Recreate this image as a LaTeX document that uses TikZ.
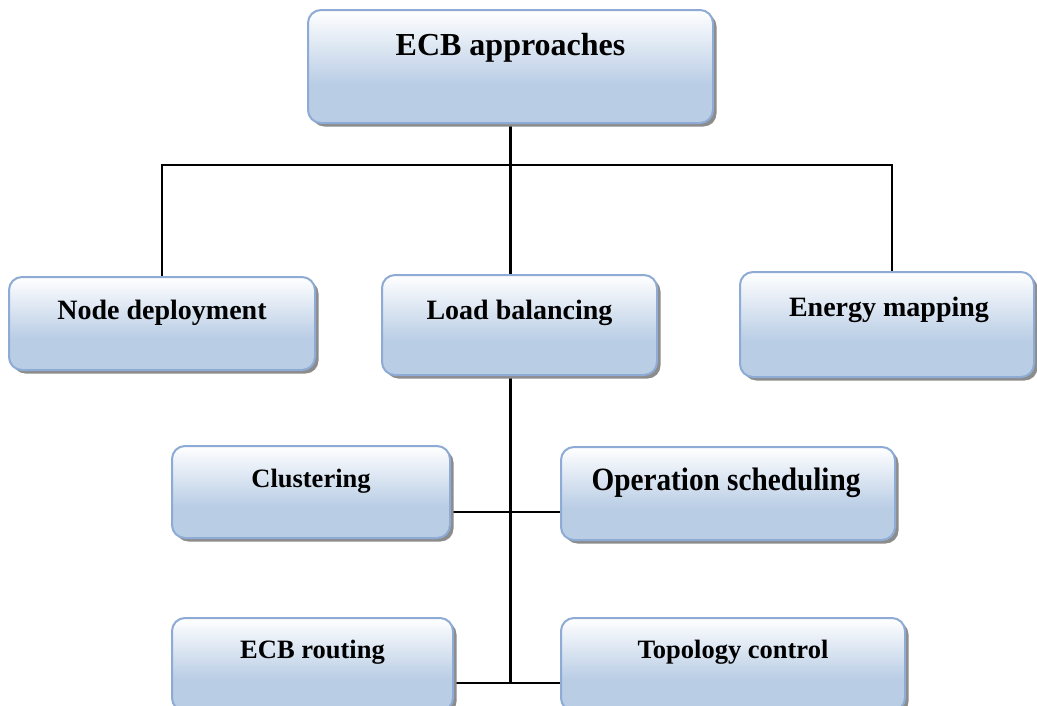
\documentclass[tikz,border=0pt]{standalone}
\usepackage{fontspec}
\setmainfont{Liberation Serif}
\usetikzlibrary{shadows,calc}
\definecolor{boxblue}{RGB}{185,205,229}
\definecolor{boxborder}{RGB}{141,171,212}
\definecolor{shadowgray}{RGB}{140,140,140}
\pgfdeclareverticalshading{boxshade}{100bp}{color(0bp)=(boxblue); color(42bp)=(boxblue); color(75bp)=(white); color(100bp)=(white)}
\pgfdeclarelayer{bg}
\pgfsetlayers{bg,main}
\begin{document}
\begin{tikzpicture}[x=1pt,y=-1pt,
  box/.style={draw=boxborder, line width=2pt, rounded corners=13pt, shading=boxshade,
    drop shadow={shadow xshift=3.5pt, shadow yshift=-3.5pt, fill=shadowgray, opacity=1}, inner sep=0pt},
  lbl/.style={anchor=base, inner sep=0pt},
  wire/.style={line width=2.4pt, black}]
\useasboundingbox (0,0) rectangle (1037,705);
\clip (0,0) rectangle (1037,705);
% boxes
\node[box, minimum width=405pt, minimum height=113pt] (top) at (510.5,66.5) {};
\node[box, minimum width=306pt, minimum height=93pt] (nd) at (162,323.5) {};
\node[box, minimum width=275pt, minimum height=100pt] (lb) at (519.5,325) {};
\node[box, minimum width=294pt, minimum height=105pt] (em) at (887,324.5) {};
\node[box, minimum width=278pt, minimum height=92pt] (cl) at (311,492) {};
\node[box, minimum width=334pt, minimum height=93pt] (os) at (728,493.5) {};
\node[box, minimum width=281pt, minimum height=93pt] (er) at (312.5,664.5) {};
\node[box, minimum width=344pt, minimum height=93pt] (tc) at (733,664.5) {};
% labels
\node[lbl, font=\bfseries\fontsize{32}{36}\selectfont] (topt) at (510.5,55) {ECB approaches};
\node[lbl, font=\bfseries\fontsize{28}{32}\selectfont] (ndt) at (162,319) {Node deployment};
\node[lbl, font=\bfseries\fontsize{28}{32}\selectfont] (lbt) at (519.5,319) {Load balancing};
\node[lbl, font=\bfseries\fontsize{28}{32}\selectfont] (emt) at (889,316) {Energy mapping};
\node[lbl, font=\bfseries\fontsize{26.5}{30}\selectfont] (clt) at (311,487) {Clustering};
\node[lbl, font=\bfseries\fontsize{32.5}{36}\selectfont] (ost) at (726,490) {\scalebox{0.9}[1]{Operation scheduling}};
\node[lbl, font=\bfseries\fontsize{26.5}{30}\selectfont] (ert) at (312.5,658) {ECB routing};
\node[lbl, font=\bfseries\fontsize{26.5}{30}\selectfont] (tct) at (733,658) {Topology control};
% connectors
\coordinate (bus) at (510.5,165);
\coordinate (emtop) at ($(em.north)+(5,0)$);
\coordinate (j1) at (510.5,512);
\coordinate (j2) at (510.5,683);
\begin{pgfonlayer}{bg}
\draw[wire] (top.south) -- (bus);
\draw[wire] (nd.north) |- (bus);
\draw[wire] (bus) -| (emtop);
\draw[wire] (bus) -- (bus |- lb.north);
\draw[wire] (lb.south -| bus) -- (j2);
\draw[wire] (cl.east |- j1) -- (os.west |- j1);
\draw[wire] (er.east |- j2) -- (tc.west |- j2);
\end{pgfonlayer}
\end{tikzpicture}
\end{document}
